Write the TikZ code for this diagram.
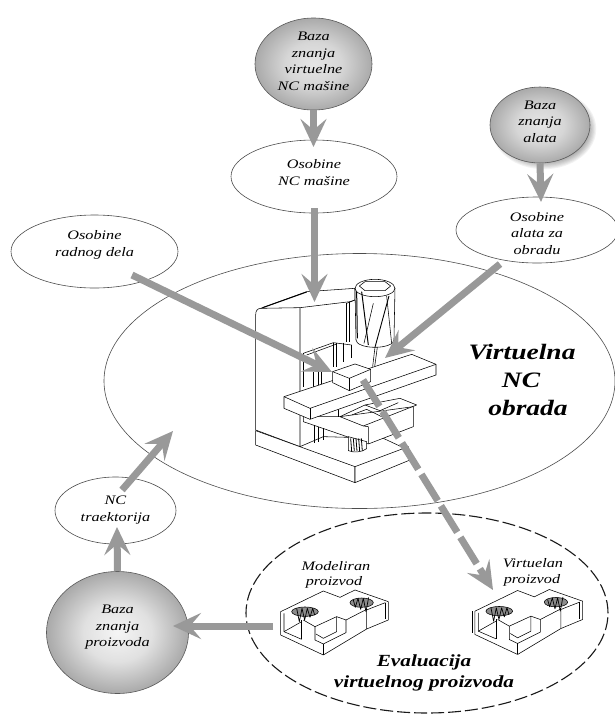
\documentclass[tikz,border=0pt]{standalone}
\usepackage{fontspec}
\usetikzlibrary{arrows.meta,shapes.geometric,calc}
\newfontfamily\sk[FakeStretch=1.25]{Liberation Serif}
\definecolor{arrowgray}{HTML}{999999}
\pgfdeclareradialshading{orbA}{\pgfpoint{0bp}{0bp}}{rgb(0bp)=(.9,.9,.9); rgb(12bp)=(.84,.84,.84); rgb(24bp)=(.68,.68,.68); rgb(35bp)=(.52,.52,.52); rgb(50bp)=(.52,.52,.52)}
\pgfdeclareradialshading{orbB}{\pgfpoint{0bp}{0bp}}{rgb(0bp)=(.96,.96,.96); rgb(12bp)=(.88,.88,.88); rgb(24bp)=(.68,.68,.68); rgb(35bp)=(.52,.52,.52); rgb(50bp)=(.52,.52,.52)}
\newcommand{\tx}[2]{\raisebox{\dimexpr#1-3.2pt\relax}[0pt][0pt]{\begin{tabular}{@{}c@{}}#2\end{tabular}}}
\tikzset{
  lbl/.style={font=\sk\itshape\fontsize{13}{16.5}\selectfont,align=center,inner sep=0pt,text=black},
  oval/.style={ellipse,draw=black!70,line width=.6pt,inner sep=0pt,lbl},
  orb/.style={oval,shading=#1,draw=black!65},
  headline/.style={font=\sk\bfseries\itshape\fontsize{#1}{20}\selectfont,inner sep=0pt,text=black},
  fat/.style={draw=arrowgray,line width=7pt,-{Stealth[length=28pt,width=26pt,inset=11pt]}},
  mech/.style={draw=black,line width=.55pt,line join=round},
  whitemech/.style={mech,fill=white},
}
\newcommand{\workpiece}{%
  \draw[whitemech] (122,395)--(250,333)--(300,352)--(345,330)--(445,365)--(445,420)--(380,447)--(250,525)--(122,465)--cycle;
  \draw[mech] (132,400)--(132,455)--(185,478);
  \draw[mech] (132,455)--(185,425);
  \draw[mech] (185,420)--(185,478);
  \draw[mech] (190,420)--(225,440)--(225,480)--(250,492)--(318,458)--(318,420);
  \draw[mech] (225,440)--(290,410)--(318,420);
  \draw[mech] (290,410)--(290,455)--(250,475)--(228,462);
  \draw[mech] (318,420)--(380,388)--(380,447);
  \draw[mech] (250,492)--(250,525);
  \draw[mech] (436,368)--(436,418);
  \draw[mech] (380,390)--(392,385)--(436,368);
  \draw[mech,fill=black!45] (155,395) arc[start angle=180,end angle=360,x radius=40,y radius=14] arc[start angle=0,end angle=180,x radius=40,y radius=14];
  \draw[mech,line width=.7pt] (170,385)--(178,425)--(186,385)--(194,420)--(202,385)--(210,412)--(218,385)--(224,405);
  \draw[mech,fill=black!45] (330,368) arc[start angle=180,end angle=360,x radius=35,y radius=14] arc[start angle=0,end angle=180,x radius=35,y radius=14];
  \draw[mech,line width=.7pt] (340,360)--(346,382)--(354,355)--(362,388)--(370,355)--(378,395)--(386,352);
}
\begin{document}
\begin{tikzpicture}[x=1pt,y=-1pt]
\useasboundingbox (0,0) rectangle (615,716);
% main ellipse
\node[oval,minimum width=511pt,minimum height=255pt] (virt) at (359.5,381) {};
\node[oval,minimum width=167pt,minimum height=73pt] (osRad) at (94.5,251.5) {\tx{7pt}{Osobine\\radnog dela}};
\node[oval,minimum width=166pt,minimum height=73pt] (osNC) at (314,176.5) {\tx{3pt}{Osobine\\NC mašine}};
\node[oval,minimum width=162pt,minimum height=66pt] (osAl) at (537,230) {\tx{-4pt}{Osobine\\alata za\\obradu}};
\node[oval,minimum width=121pt,minimum height=67pt] (nctr) at (115.5,510.5) {\tx{1pt}{NC\\traektorija}};
\node[oval,dashed,dash pattern=on 13pt off 4pt,line width=1.1pt,draw=black!90,minimum width=362pt,minimum height=200pt] (evalu) at (427,613) {};
% shadow of the tool base
\foreach \r in {1,2,...,12}{
  \fill[black,opacity=.05] (544,129) ellipse[x radius=39+\r*1.1,y radius=27+\r*1.1];
}
\node[orb=orbA,minimum width=117pt,minimum height=92pt] (bzNC) at (313.5,64) {\tx{2pt}{Baza\\znanja\\virtuelne\\NC mašine}};
\node[orb=orbA,minimum width=100pt,minimum height=76pt] (bzAl) at (540,125) {\tx{3pt}{Baza\\znanja\\alata}};
\node[orb=orbB,minimum width=142pt,minimum height=122pt] (bzPr) at (117.5,632.5) {\tx{6pt}{Baza\\znanja\\proizvoda}};
% machine
\begin{scope}[shift={(240,260)},x=.3333pt,y=-.3333pt]
  % column and base
  \draw[whitemech] (47,165) .. controls (47,152) and (52,146) .. (62,145) -- (200,95) -- (345,85) -- (345,120) -- (330,125) -- (180,143) -- (180,560) -- (47,510) -- cycle;
  \draw[mech,line width=1pt] (68,143)--(200,96);
  \draw[mech] (62,145)--(180,143);
  \draw[whitemech] (47,512)--(345,620)--(345,668)--(47,555)--cycle;
  \draw[whitemech] (345,620)--(505,560)--(510,600)--(345,668)--cycle;
  \draw[mech] (180,560)--(250,530)--(430,535)--(505,570);
  % column slide
  \draw[mech] (320,130)--(320,245);
  \draw[mech] (328,125)--(328,245);
  \draw[mech] (320,130)--(345,120);
  \draw[mech] (190,280)--(280,248)--(335,255);
  \draw[mech] (200,285)--(290,252);
  \draw[mech] (280,250)--(280,320);
  \draw[mech] (290,248)--(290,320);
  \draw[mech] (310,248)--(310,305);
  \draw[mech] (335,255)--(335,295);
  \draw[mech] (190,280)--(190,380);
  \draw[mech] (220,335)--(220,385);
  \draw[mech] (235,335)--(235,385);
  \draw[mech] (245,330)--(245,380);
  % spindle
  \draw[whitemech] (345,85) arc[start angle=180,end angle=360,x radius=60,y radius=27] -- (462,240) arc[start angle=0,end angle=180,x radius=57,y radius=22] -- cycle;
  \draw[mech] (345,85) arc[start angle=180,end angle=0,x radius=60,y radius=25];
  \draw[mech] (358,78)--(375,65)--(435,65)--(452,78)--(435,92)--(375,92)--cycle;
  \draw[mech,line width=1pt] (350,95)--(352,235);
  \draw[mech,line width=1pt] (365,95)--(385,255);
  \draw[mech] (400,130)--(372,250);
  \draw[mech,line width=.9pt] (447,108)--(405,262);
  \draw[mech] (440,108)--(455,250);
  \draw[mech] (405,262)--(398,320);
  \draw[mech] (412,262)--(404,320);
  % lower saddle
  \draw[whitemech] (190,470)--(300,470)--(520,440)--(520,500)--(385,552)--(190,485)--cycle;
  \draw[mech] (300,470)--(370,498)--(530,435)--(480,415)--(375,435)--(300,470);
  \draw[mech] (370,498)--(385,500)--(385,552);
  \draw[mech] (335,465)--(380,448)--(425,470);
  \draw[mech] (375,435)--(420,452)--(475,428);
  \draw[mech] (295,445)--(295,472);
  \draw[mech] (222,495)--(222,550);
  \draw[mech] (235,500)--(235,545);
  \draw[mech] (250,505)--(250,540);
  \draw[mech,fill=white] (325,530)--(325,572) .. controls (340,578) and (365,578) .. (380,566)--(380,545)--cycle;
  \foreach \v in {332,340,348,356,364}{\draw[mech,line width=.8pt] (\v,535)--(\v+3,573);}
  % table
  \draw[whitemech] (132,410)--(515,283)--(588,313)--(588,345)--(210,478)--(132,445)--cycle;
  \draw[mech] (132,410)--(210,445)--(588,313);
  \draw[mech] (210,445)--(210,478);
  % work on the table
  \draw[whitemech] (278,335)--(345,312)--(392,328)--(392,365)--(328,392)--(278,368)--cycle;
  \draw[mech] (278,335)--(328,355)--(392,328);
  \draw[mech] (328,355)--(328,392);
\end{scope}
% products
\begin{scope}[shift={(240,480)},x=.3333pt,y=-.3333pt]
  \workpiece
\end{scope}
\begin{scope}[shift={(434.3,479.5)},x=.3333pt,y=-.3333pt]
  \workpiece
  \draw[mech] (114,395)--(114,462);
\end{scope}
% labels
\node[headline=22] (t1) at (522,352) {Virtuelna};
\node[headline=22] (t2) at (521,380) {NC};
\node[headline=22] (t3) at (528,408) {obrada};
\node[headline=17] (t4) at (424,662) {Evaluacija};
\node[headline=17] (t5) at (424,683) {virtuelnog proizvoda};
\node[lbl] (t6) at (336,566) {Modeliran};
\node[lbl] (t7) at (334,582) {proizvod};
\node[lbl] (t8) at (533,563) {Virtuelan};
\node[lbl] (t9) at (532,580) {proizvod};
% connector ends
\coordinate (a2s) at (314.5,208);
\coordinate (a2e) at (314.5,302);
\coordinate (a1e) at (313.5,147);
\coordinate (a3e) at (541,202);
\coordinate (a4s) at (500,264);
\coordinate (a4e) at (385,358);
\coordinate (a5s) at (132,275);
\coordinate (a5e) at (332,372);
\coordinate (a6s) at (363,380);
\coordinate (a6e) at (493,590);
\coordinate (a7s) at (122,490);
\coordinate (a7e) at (173,431);
\coordinate (a8e) at (117,527);
\coordinate (a9s) at (273,626);
\coordinate (a9e) at (173,626);
% connectors
\draw[fat] (bzNC.south) -- (a1e);
\draw[fat] (a2s) -- (a2e);
\draw[fat] (bzAl.south) -- (a3e);
\draw[fat] (a4s) -- (a4e);
\draw[fat] (a5s) -- (a5e);
\draw[fat,dash pattern=on 31pt off 6pt] (a6s) -- (a6e);
\draw[fat] (a7s) -- (a7e);
\draw[fat] (bzPr.north) -- (a8e);
\draw[fat] (a9s) -- (a9e);
\end{tikzpicture}
\end{document}
